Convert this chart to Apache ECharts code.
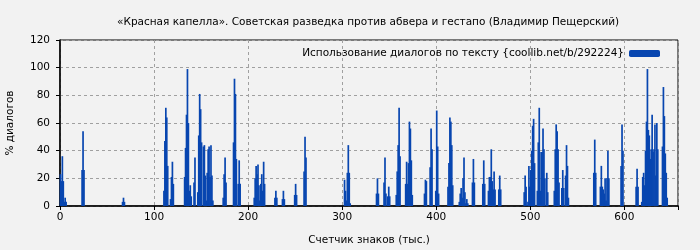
<!DOCTYPE html>
<html>
<head>
<meta charset="utf-8">
<script src="https://cdn.jsdelivr.net/npm/echarts@6/dist/echarts.min.js"></script>
<style>
  html, body { margin: 0; padding: 0; background: #f2f2f2; }
  #main { width: 700px; height: 250px; }
</style>
</head>
<body>
<div id="main"></div>
<script>
// позиции (тыс. знаков) и доля диалогов, %
let charPos = [
  0, 1, 2, 3, 4, 5, 6,
  23, 24, 25,
  66, 67, 68,
  110, 111, 112, 113, 114, 117, 118, 119, 120,
  132, 133, 134, 135, 136, 137, 138, 139, 142, 143,
  146, 147, 148, 149, 150, 152, 153, 154, 155, 156, 157, 158, 159, 160, 161, 162,
  173, 174, 175, 176, 184, 185, 186, 187, 189, 190, 191,
  206, 207, 208, 209, 210, 211, 212, 213, 214, 215, 216, 217,
  228, 229, 230, 236, 237, 238, 249, 250, 251, 259, 260, 261,
  302, 303, 304, 305, 306, 307, 308,
  336, 337, 338, 344, 345, 346, 348, 349, 350,
  357, 358, 359, 360, 361, 367, 368, 369, 370, 371, 372, 373, 374,
  387, 388, 389, 393, 394, 395, 399, 400, 401, 402,
  412, 413, 414, 415, 416, 417,
  424, 425, 426, 427, 428, 429, 430, 431, 432, 433, 438, 439, 440,
  449, 450, 451, 455, 456, 457, 458, 459, 460, 461, 462, 466, 467, 468,
  493, 494, 495, 497, 498, 499, 500, 501, 502, 503, 504,
  507, 508, 509, 510, 511, 512, 513, 514, 515, 517, 518,
  525, 526, 527, 528, 529, 530, 533, 534, 535, 537, 538, 539, 540,
  567, 568, 569, 574, 575, 576, 577, 578, 579, 580, 581, 582, 583,
  596, 597, 598, 612, 613, 614,
  618, 619, 620, 621, 622, 623, 624, 625, 626, 627, 628, 629, 630, 631, 632, 633, 634, 635,
  640, 641, 642, 643, 644, 645
];
let dialogPct = [
  23, 18, 36, 18, 3, 6, 3,
  26, 54, 26,
  3, 6, 3,
  11, 47, 71, 64, 29, 5, 21, 32, 16,
  21, 42, 66, 99, 60, 11, 15, 7, 17, 35,
  10, 51, 81, 70, 46, 43, 44, 22, 4, 24, 41, 43, 21, 44, 22, 4,
  6, 23, 35, 17, 46, 92, 81, 34, 16, 33, 16,
  6, 20, 29, 23, 30, 15, 4, 16, 23, 11, 32, 16,
  6, 11, 6, 5, 11, 5, 8, 16, 8, 25, 50, 35,
  19, 11, 4, 24, 44, 24, 2,
  9, 20, 9, 17, 35, 9, 7, 14, 7,
  8, 25, 44, 71, 36, 16, 32, 16, 31, 61, 56, 33, 8,
  9, 19, 18, 28, 56, 41, 11, 69, 43, 9,
  14, 31, 64, 61, 44, 15,
  3, 9, 13, 6, 20, 35, 10, 2, 5, 2, 17, 34, 17,
  16, 33, 16, 11, 21, 21, 41, 18, 12, 25, 12, 12, 22, 12,
  10, 22, 14, 3, 29, 14, 26, 40, 58, 63, 31,
  11, 46, 71, 11, 39, 39, 56, 41, 20, 24, 10,
  11, 41, 59, 54, 41, 17, 13, 26, 13, 22, 44, 29, 6,
  24, 48, 24, 14, 29, 14, 12, 9, 20, 4, 20, 40, 20,
  29, 59, 40, 14, 27, 14,
  3, 21, 24, 15, 40, 61, 99, 55, 51, 34, 41, 66, 39, 41, 59, 22, 60, 41,
  43, 86, 65, 38, 24, 6
];

let yTicks = [0, 20, 40, 60, 80, 100, 120];
let xTicks = [0, 100, 200, 300, 400, 500, 600];

// каждый столбец занимает отрезок [x, x+1]
let barData = charPos.map(function (x, i) { return [x + 0.5, dialogPct[i]]; });

let myChart = echarts.init(document.getElementById('main'));
let font = 'DejaVu Sans';
let option = {
    backgroundColor: '#f2f2f2',
    animation: false,
    title: {
        text: '«Красная капелла». Советская разведка против абвера и гестапо (Владимир Пещерский)',
        left: 112,
        top: 12,
        textStyle: { fontFamily: font, fontSize: 10.5, fontWeight: 'normal', color: '#000' }
    },
    legend: {
        data: ['Использование диалогов по тексту {coollib.net/b/292224}'],
        right: 35,
        top: 43,
        align: 'right',
        itemWidth: 31,
        itemHeight: 7,
        itemGap: 8,
        textStyle: { fontFamily: font, fontSize: 10.5, color: '#000' }
    },
    grid: { left: 60, right: 22, top: 40, bottom: 44, show: true, borderColor: '#000', borderWidth: 1,
        outerBoundsMode: 'none' },
    xAxis: {
        type: 'value',
        min: 0,
        max: 657,
        interval: 100,
        name: 'Счетчик знаков (тыс.)',
        nameLocation: 'middle',
        nameGap: 29,
        nameTextStyle: { fontFamily: font, fontSize: 10.5, color: '#000' },
        axisLine: { lineStyle: { color: '#000', width: 1.5 } },
        axisTick: { lineStyle: { color: '#000' }, length: 4 },
        axisLabel: { fontFamily: font, fontSize: 10.5, color: '#000', margin: 6,
            formatter: function (v) { return xTicks.indexOf(v) >= 0 ? v : ''; } },
        splitLine: { show: true, lineStyle: { color: '#a0a0a0', type: [3, 3] } }
    },
    yAxis: {
        type: 'value',
        min: 0,
        max: 120,
        interval: 20,
        name: '% диалогов',
        nameLocation: 'middle',
        nameGap: 44,
        nameTextStyle: { fontFamily: font, fontSize: 10.5, color: '#000' },
        axisLine: { show: true, lineStyle: { color: '#000', width: 1.5 } },
        axisTick: { show: true, lineStyle: { color: '#000' }, length: 4 },
        axisLabel: { fontFamily: font, fontSize: 10.5, color: '#000', margin: 10,
            formatter: function (v) { return yTicks.indexOf(v) >= 0 ? v : ''; } },
        splitLine: { show: true, lineStyle: { color: '#a0a0a0', type: [3, 3] } }
    },
    series: [
        {
            name: 'Использование диалогов по тексту {coollib.net/b/292224}',
            type: 'bar',
            data: barData,
            barWidth: 1.7,
            itemStyle: { color: '#0846b0' }
        }
    ]
};
myChart.setOption(option);
</script>
</body>
</html>
